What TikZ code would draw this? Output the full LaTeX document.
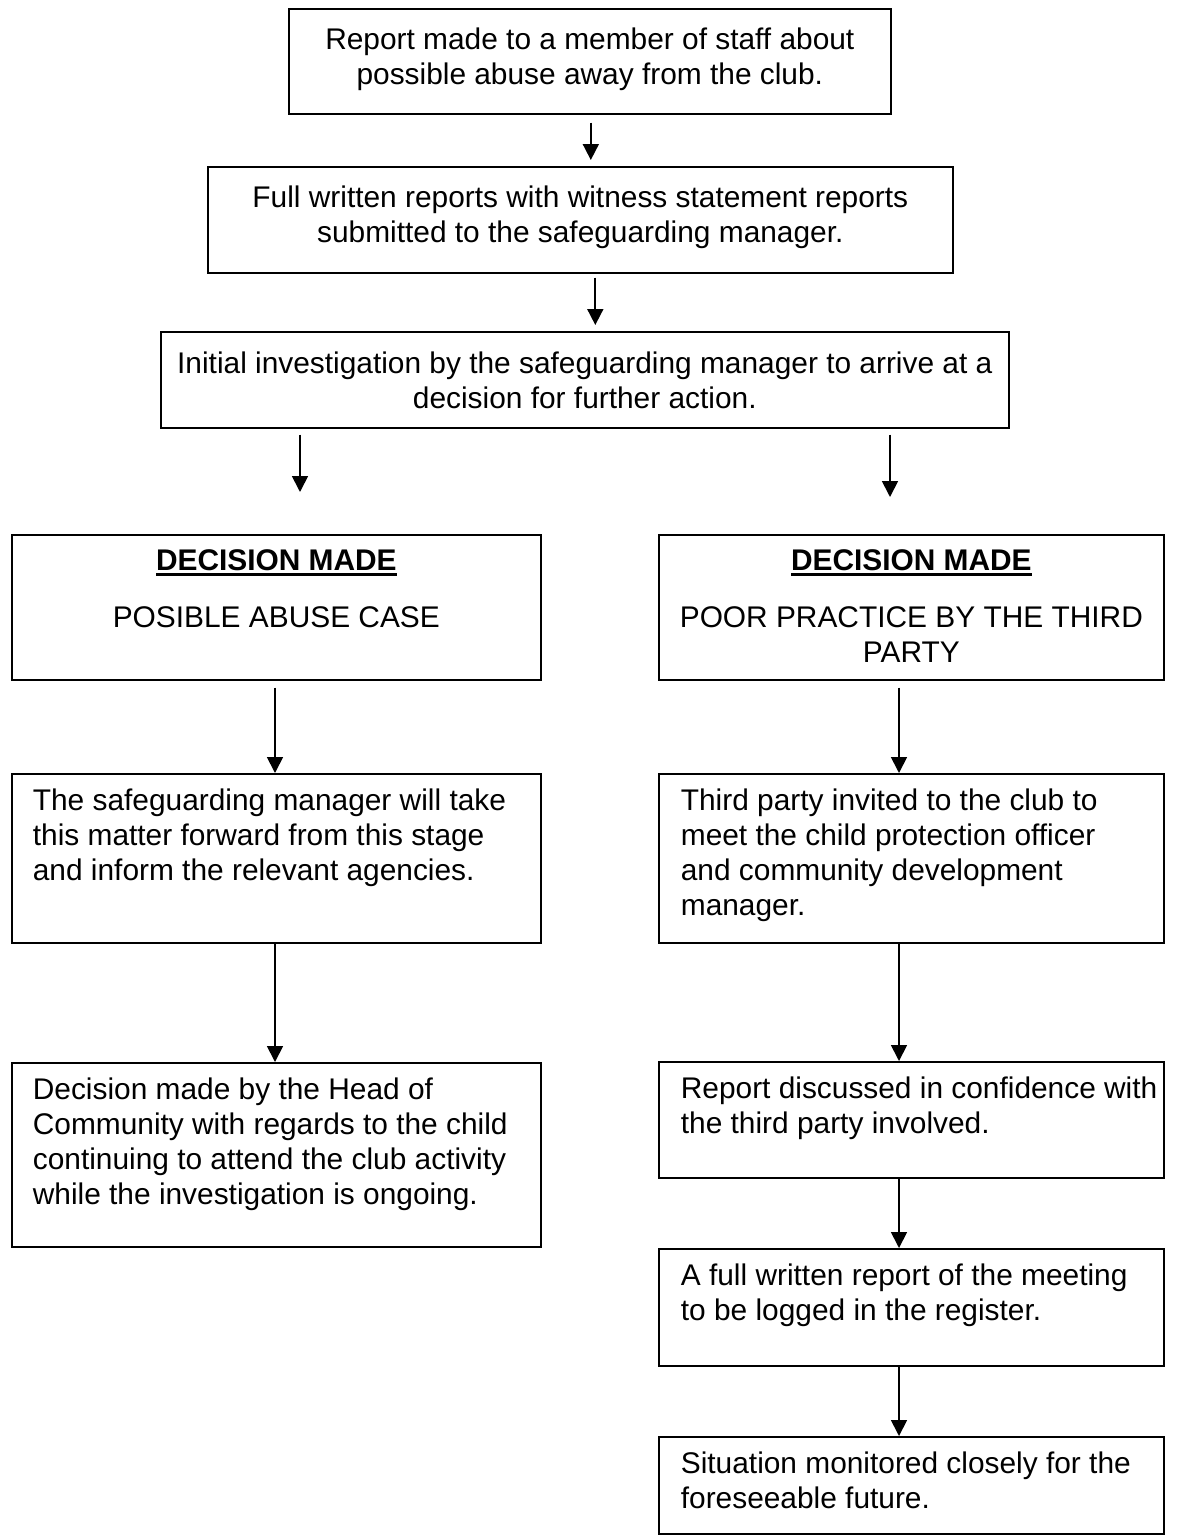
\documentclass[tikz,border=0pt]{standalone}
\usepackage{fontspec}
\setmainfont{Liberation Sans}
\usetikzlibrary{positioning,arrows.meta}

% padding inside the boxes
\newcommand{\leftin}[1]{\vspace*{0.3cm}\raggedright\leftskip=#1}
\newcommand{\midin}{\vspace*{0.29cm}\centering}
\newcommand{\decisionhead}[1]{\leavevmode\setbox0\hbox{\bfseries #1}\rlap{\rule[-3.2pt]{\wd0}{1.6pt}}\box0}

\begin{document}
\begin{tikzpicture}[x=0.02cm, y=-0.02cm,
    every node/.style={font=\fontsize{17}{19.9}\selectfont},
    flowbox/.style={draw, line width=1pt, inner sep=0pt, anchor=north west},
    arrow/.style={line width=1pt, -{Triangle[length=0.32cm,width=0.32cm]}}]
      \useasboundingbox (0,0) rectangle (1189,1535);

      % Define the boxes of the common part
      \node[flowbox] (report) at (288,8) {\parbox[c][2.1cm][c]{12.04cm}{\centering
        Report made to a member of staff about\\possible abuse away from the club.\vspace*{0.1cm}}};
      \node[flowbox] (written) at (207,166) {\parbox[c][2.12cm][c]{14.9cm}{\centering
        Full written reports with witness statement reports\\submitted to the safeguarding manager.\vspace*{0.1cm}}};
      \node[flowbox] (initial) at (160,331) {\parbox[c][1.92cm][c]{16.96cm}{\centering
        Initial investigation by the safeguarding manager to arrive at a\\decision for further action.}};

      % Define the boxes of the abuse branch
      \node[flowbox] (abuse) at (11,534) {\parbox[c][2.9cm][t]{10.58cm}{\midin
        \decisionhead{DECISION MADE}\\[0.44cm]POSIBLE ABUSE CASE}};
      \node[flowbox] (agencies) at (11,773) {\parbox[c][3.38cm][t]{10.58cm}{\leftin{0.42cm}
        The safeguarding manager will take\\this matter forward from this stage\\and inform the relevant agencies.}};
      \node[flowbox] (head) at (11,1062) {\parbox[c][3.68cm][t]{10.58cm}{\leftin{0.42cm}
        Decision made by the Head of\\Community with regards to the child\\continuing to attend the club activity\\while the investigation is ongoing.}};

      % Define the boxes of the poor practice branch
      \node[flowbox] (poor) at (658,534) {\parbox[c][2.9cm][t]{10.1cm}{\midin
        \decisionhead{DECISION MADE}\\[0.44cm]POOR PRACTICE BY THE THIRD\\PARTY}};
      \node[flowbox] (invited) at (658,773) {\parbox[c][3.38cm][t]{10.1cm}{\leftin{0.44cm}
        Third party invited to the club to\\meet the child protection officer\\and community development\\manager.}};
      \node[flowbox] (discussed) at (658,1061) {\parbox[c][2.32cm][t]{10.1cm}{\leftin{0.44cm}
        Report discussed in confidence with\\the third party involved.}};
      \node[flowbox] (logged) at (658,1248) {\parbox[c][2.34cm][t]{10.1cm}{\leftin{0.44cm}
        A full written report of the meeting\\to be logged in the register.}};
      \node[flowbox] (monitored) at (658,1436) {\parbox[c][1.94cm][t]{10.1cm}{\leftin{0.44cm}
        Situation monitored closely for the\\foreseeable future.}};

      % Free ends and columns of the arrows
      \coordinate (leftend) at (300,492);
      \coordinate (rightend) at (890,497);
      \coordinate (leftcol) at (275,0);
      \coordinate (rightcol) at (899,0);

      % Draw the arrows
      \draw[arrow, shorten <=8*0.02cm, shorten >=6*0.02cm] ([xshift=1*0.02cm]report.south) -- ([xshift=1*0.02cm]report.south |- written.north);
      \draw[arrow, shorten <=4*0.02cm, shorten >=6*0.02cm] ([xshift=15*0.02cm]written.south) -- ([xshift=15*0.02cm]written.south |- initial.north);
      \draw[arrow, shorten <=6*0.02cm] (leftend |- initial.south) -- (leftend);
      \draw[arrow, shorten <=6*0.02cm] (rightend |- initial.south) -- (rightend);

      \draw[arrow, shorten <=7*0.02cm] (leftcol |- abuse.south) -- (leftcol |- agencies.north);
      \draw[arrow] (leftcol |- agencies.south) -- (leftcol |- head.north);

      \draw[arrow, shorten <=7*0.02cm] (rightcol |- poor.south) -- (rightcol |- invited.north);
      \draw[arrow] (rightcol |- invited.south) -- (rightcol |- discussed.north);
      \draw[arrow] (rightcol |- discussed.south) -- (rightcol |- logged.north);
      \draw[arrow] (rightcol |- logged.south) -- (rightcol |- monitored.north);
\end{tikzpicture}
\end{document}
